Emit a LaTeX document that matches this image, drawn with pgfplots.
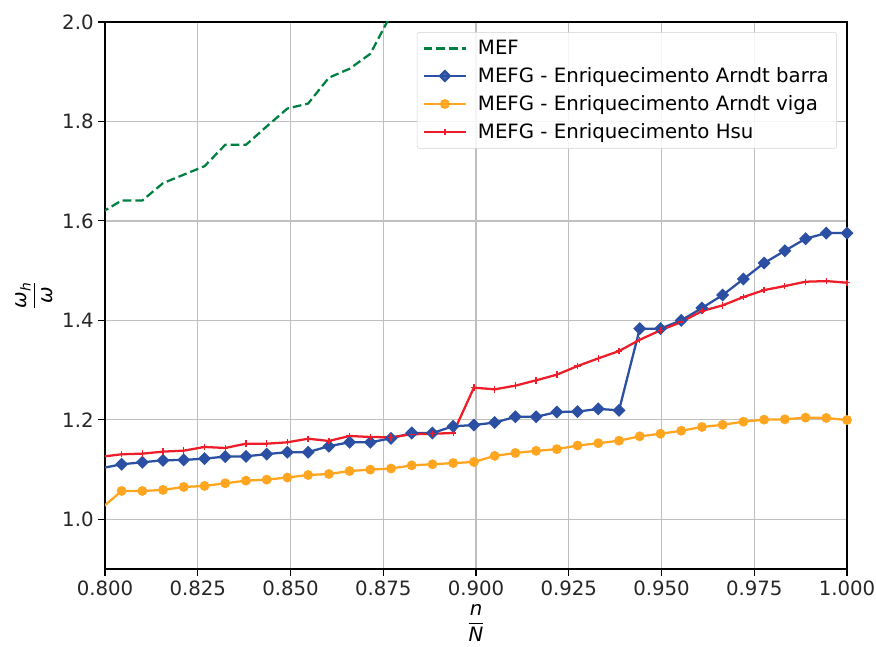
\documentclass[border=0pt]{standalone}
\usepackage{amsmath}
\usepackage{fontspec}
\setmainfont{DejaVu Sans}
\usepackage{pgfplots}
\usepackage{pgfplotstable}
\pgfplotsset{compat=1.18}
\definecolor{mefgreen}{RGB}{0,128,64}
\definecolor{cblue}{HTML}{2B4FA2}
\definecolor{corange}{HTML}{FFA51F}
\definecolor{cred}{HTML}{EE1D2A}
\pgfplotstableread{
x barra viga hsu
0.79888 1.1024 1.0211 1.1256
0.80447 1.1106 1.0569 1.1307
0.81006 1.1146 1.0569 1.1320
0.81564 1.1186 1.0590 1.1360
0.82123 1.1193 1.0650 1.1380
0.82682 1.1220 1.0670 1.1454
0.83240 1.1260 1.0724 1.1434
0.83799 1.1266 1.0777 1.1520
0.84358 1.1310 1.0797 1.1520
0.84916 1.1350 1.0840 1.1548
0.85475 1.1350 1.0890 1.1620
0.86034 1.1470 1.0910 1.1575
0.86592 1.1548 1.0970 1.1675
0.87151 1.1548 1.0999 1.1655
0.87709 1.1628 1.1020 1.1648
0.88268 1.1735 1.1085 1.1709
0.88827 1.1735 1.1106 1.1720
0.89385 1.1870 1.1130 1.1735
0.89944 1.1895 1.1152 1.2647
0.90503 1.1945 1.1275 1.2613
0.91061 1.2060 1.1333 1.2687
0.91620 1.2060 1.1376 1.2794
0.92179 1.2157 1.1410 1.2908
0.92737 1.2165 1.1483 1.3082
0.93296 1.2220 1.1530 1.3236
0.93855 1.2191 1.1580 1.3383
0.94413 1.3833 1.1668 1.3610
0.94972 1.3833 1.1720 1.3800
0.95531 1.4000 1.1780 1.3966
0.96089 1.4248 1.1856 1.4187
0.96648 1.4509 1.1900 1.4302
0.97207 1.4830 1.1963 1.4469
0.97765 1.5152 1.2003 1.4609
0.98324 1.5400 1.2010 1.4690
0.98883 1.5642 1.2044 1.4777
0.99441 1.5755 1.2037 1.4790
1.00000 1.5755 1.1996 1.4757
}\mefgdata
\pgfplotstableread{
x mef
0.79888 1.616
0.80447 1.641
0.81006 1.641
0.81564 1.676
0.82123 1.693
0.82682 1.710
0.83240 1.753
0.83799 1.753
0.84358 1.790
0.84916 1.826
0.85475 1.836
0.86034 1.888
0.86592 1.906
0.87151 1.936
0.87709 2.015
0.88268 2.050
}\mefdata
\newcommand{\fs}{\fontsize{14.8pt}{17.5pt}\selectfont}
\begin{document}
\begin{tikzpicture}
\begin{axis}[
  scale only axis,
  width=556.5pt, height=410.25pt,
  xmin=0.8, xmax=1.0, ymin=0.9, ymax=2.0,
  xtick={0.8,0.825,...,1.0001},
  ytick={1.0,1.2,...,2.01},
  /pgf/number format/assume math mode=true,
  xticklabel style={/pgf/number format/.cd,fixed,fixed zerofill,precision=3},
  yticklabel style={/pgf/number format/.cd,fixed,fixed zerofill,precision=1},
  tick label style={font=\fs, text=black!85},
  label style={font=\fs},
  tick align=outside,
  xtick pos=bottom, ytick pos=left,
  major tick length=5pt,
  tick style={black, line width=0.8pt},
  axis line style={black, line width=0.8pt},
  grid=major,
  major grid style={gray!50, line width=1pt},
  xlabel={$\dfrac{\text{\itshape n}}{\text{\itshape N}}$},
  ylabel={$\dfrac{\text{\itshape ω}_{\text{\itshape h}}}{\text{\itshape ω}}$},
  legend cell align=left,
  legend style={at={(0.9865,0.9817)}, anchor=north east, font=\fs,
    draw=gray!35, rounded corners=2pt, fill=white, fill opacity=0.85, text opacity=1,
    row sep=4.2pt, column sep=6pt, inner xsep=4pt, inner ysep=4pt},
  legend image code/.code={\draw[mark repeat=2,mark phase=2] plot coordinates {(0pt,0pt) (16pt,0pt) (32pt,0pt)};},
]
\addplot[mefgreen, line width=1.7pt, dash pattern=on 6.5pt off 3pt] table[x=x,y=mef]{\mefdata};
\addlegendentry{MEF}
\addplot[cblue, line width=1.7pt, mark=square*, mark size=2.6pt, mark options={rotate=45, solid}, mark repeat=1, mark phase=1] table[x=x,y=barra]{\mefgdata};
\addlegendentry{MEFG - Enriquecimento Arndt barra}
\addplot[corange, line width=1.7pt, mark=*, mark size=2.8pt, mark options={solid}, mark repeat=1, mark phase=1] table[x=x,y=viga]{\mefgdata};
\addlegendentry{MEFG - Enriquecimento Arndt viga}
\addplot[cred, line width=1.7pt, mark=+, mark size=2.4pt, mark options={solid, line width=1pt}, mark repeat=1, mark phase=1] table[x=x,y=hsu]{\mefgdata};
\addlegendentry{MEFG - Enriquecimento Hsu}
\end{axis}
\pgfresetboundingbox
\path[use as bounding box] ([xshift=-78.75pt,yshift=-57.75pt]current axis.south west) rectangle ([xshift=21.75pt,yshift=16.5pt]current axis.north east);
\end{tikzpicture}
\end{document}
